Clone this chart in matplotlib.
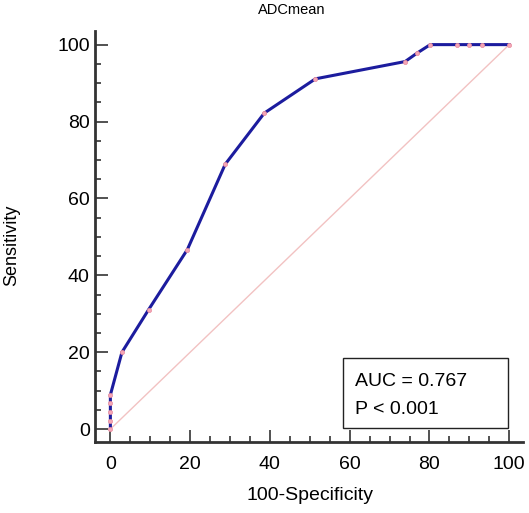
import matplotlib.pyplot as plt
from matplotlib.patches import Rectangle
from matplotlib.ticker import MultipleLocator

plt.rcParams["font.family"] = ["Liberation Sans", "DejaVu Sans"]

# ROC points (100-Specificity, Sensitivity)
fpr = [0, 0, 0, 0, 0, 2.9, 9.6, 19.3, 28.8, 38.6, 51.4, 73.9, 76.9, 80.2, 86.9, 90.0, 93.3, 100]
tpr = [0, 2.2, 4.4, 6.7, 8.9, 20.0, 31.1, 46.7, 68.9, 82.2, 91.1, 95.6, 97.8, 100, 100, 100, 100, 100]
ticks = [0, 20, 40, 60, 80, 100]
title = "ADCmean"
auc_text = "AUC = 0.767"
p_text = "P < 0.001"

fig = plt.figure(figsize=(5.29, 5.13), dpi=100)
ax = fig.add_axes([0.18, 0.138, 0.809, 0.802])

ax.plot([0, 100], [0, 100], color="#f2c2c2", lw=1.0, zorder=1)
ax.plot(fpr, tpr, color="#1c1c9e", lw=2.2, zorder=2)
ax.plot(fpr, tpr, ls="none", marker="o", ms=3, mfc="#f4a6b6", mec="#e88a9c",
        mew=0.5, zorder=3)

ax.set_xlim(-3.8, 103.5)
ax.set_ylim(-3.4, 103.6)
ax.set_xticks(ticks)
ax.set_yticks(ticks)
ax.xaxis.set_minor_locator(MultipleLocator(5))
ax.yaxis.set_minor_locator(MultipleLocator(5))

for side in ("top", "right"):
    ax.spines[side].set_visible(False)
for side in ("left", "bottom"):
    ax.spines[side].set_linewidth(2)
    ax.spines[side].set_color("#333333")

ax.tick_params(which="both", direction="in", color="#333333", width=1.2)
ax.tick_params(which="major", length=9, labelsize=14)
ax.tick_params(which="minor", length=4)
ax.tick_params(axis="y", which="major", pad=4)
ax.tick_params(axis="x", which="major", pad=10)

ax.set_xlabel("100-Specificity", fontsize=14)
ax.set_ylabel("Sensitivity", fontsize=13)
ax.xaxis.set_label_coords(0.502, -0.108)
ax.yaxis.set_label_coords(-0.175, 0.479)

fig.text(0.552, 0.98, title, ha="center", va="center", fontsize=10.5)

ax.add_patch(Rectangle((0.579, 0.034), 0.386, 0.170, transform=ax.transAxes,
                       fill=False, ec="#222222", lw=1.0, zorder=4))
ax.text(0.607, 0.148, auc_text, transform=ax.transAxes, ha="left", va="center",
        fontsize=14)
ax.text(0.607, 0.080, p_text, transform=ax.transAxes, ha="left", va="center",
        fontsize=14)

fig.savefig("out.png", dpi=100)
